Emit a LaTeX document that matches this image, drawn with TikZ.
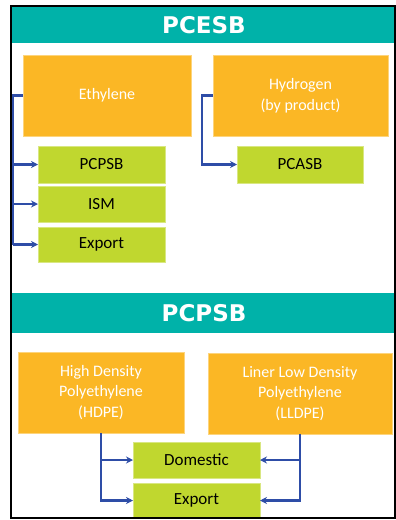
\documentclass[tikz,border=0pt]{standalone}
\usepackage{fontspec}
\setmainfont{Carlito}
\newfontfamily\headfont{DejaVu Sans}
\usepackage{xcolor}
\usetikzlibrary{positioning,arrows.meta}

\definecolor{tealhead}{HTML}{00B2A9}
\definecolor{orangebox}{HTML}{FBB725}
\definecolor{greenbox}{HTML}{C0D72F}
\definecolor{flowblue}{HTML}{2E4DA7}

\begin{document}
\begin{tikzpicture}[x=1pt, y=-1pt, >={Stealth[length=7pt,width=7pt]},
  head/.style={fill=tealhead, text=white, inner sep=0pt, outer sep=0pt, minimum width=384pt,
    font=\headfont\bfseries\fontsize{23}{26}\selectfont},
  srcbox/.style={fill=orangebox, draw=orangebox!60!white, line width=0.6pt, text=white, inner sep=0pt, outer sep=0pt,
    align=center, minimum height=81pt, font=\fontsize{16}{20.5}\selectfont},
  dstbox/.style={fill=greenbox, draw=greenbox!60!white, line width=0.6pt, text=black, inner sep=0pt, outer sep=0pt,
    minimum width=127pt, font=\fontsize{17}{20}\selectfont},
  flow/.style={draw=flowblue, line width=2.3pt, ->}]
\useasboundingbox (0,0) rectangle (396,520);

% headers
\node[head, minimum height=36pt] (H1) at (204,25) {PCESB};
\node[head, minimum height=40pt] (H2) at (204,313) {PCPSB};

% PCESB sources (orange)
\node[srcbox, minimum width=168pt] (eth) at (107,95.5) {Ethylene};
\node[srcbox, minimum width=175pt] (hyd) at (300.5,95.5) {Hydrogen\\(by product)};

% PCESB outlets (green)
\node[dstbox, minimum height=37pt] (pcpsb) at (101.5,164.5) {PCPSB};
\node[dstbox, minimum height=36pt] (ism) at (101.5,204) {ISM};
\node[dstbox, minimum height=35pt] (expA) at (101.5,244.5) {Export};
\node[dstbox, minimum height=37pt, minimum width=126pt] (pcasb) at (300,164.5) {PCASB};

% PCPSB sources (orange)
\node[srcbox, minimum width=166pt] (hdpe) at (101,392.5) {High Density\\Polyethylene\\(HDPE)};
\node[srcbox, minimum width=184pt] (lldpe) at (300,393.5) {Liner Low Density\\Polyethylene\\(LLDPE)};

% PCPSB outlets (green)
\node[dstbox, minimum height=36pt] (dom) at (196.5,460) {Domestic};
\node[dstbox, minimum height=35pt] (expB) at (196.5,500.5) {Export};

% branch points
\coordinate (ethbus) at (12.5,95.5);
\coordinate (hydbus) at (202,95.5);

% ethylene arrows
\draw[flow, -] (eth.west) -- (ethbus) -- (ethbus |- expA.west);
\draw[flow] (ethbus |- pcpsb.west) -- (pcpsb.west);
\draw[flow] (ethbus |- ism.west) -- (ism.west);
\draw[flow] (ethbus |- expA.west) -- (expA.west);

% hydrogen arrow
\draw[flow] (hyd.west) -- (hydbus) |- (pcasb.west);

% polyethylene arrows
\draw[flow] (hdpe.south) |- (expB.west);
\draw[flow] (hdpe.south |- dom.west) -- (dom.west);
\draw[flow] (lldpe.south) |- (expB.east);
\draw[flow] (lldpe.south |- dom.east) -- (dom.east);

% frame
\draw[line width=2pt] (10.5,5.5) rectangle (395,518);
\end{tikzpicture}
\end{document}
